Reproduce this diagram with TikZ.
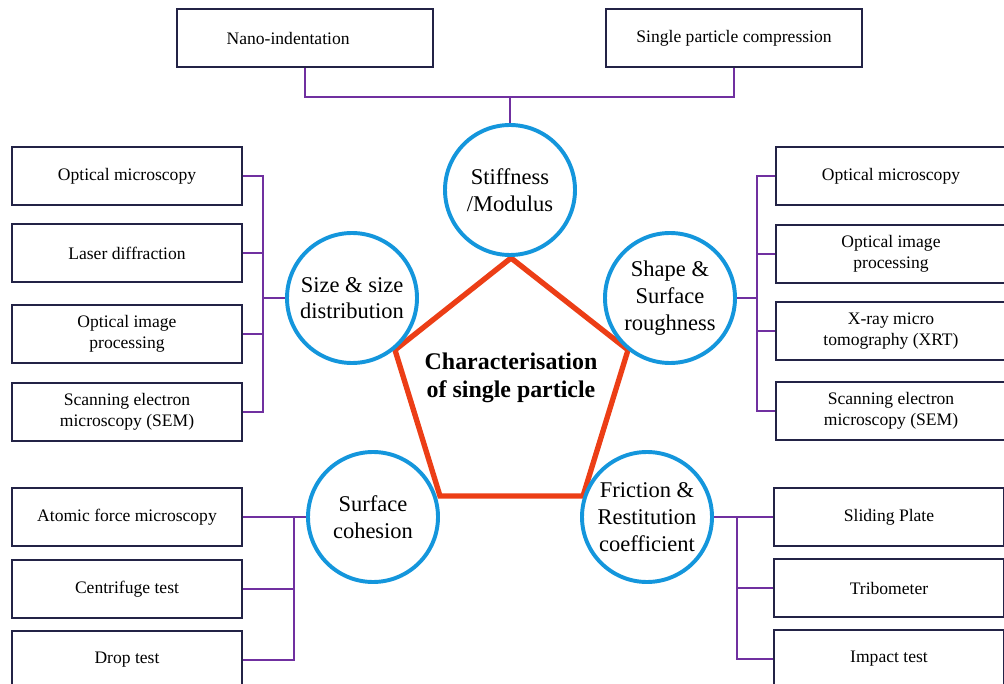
\documentclass[tikz,border=0pt]{standalone}
\usepackage{fontspec}
\setmainfont{Liberation Serif}
\definecolor{ringblue}{RGB}{20,150,220}
\definecolor{pentred}{RGB}{236,62,22}
\definecolor{boxnavy}{RGB}{35,35,70}
\definecolor{linkpurple}{RGB}{112,48,160}

\begin{document}
\begin{tikzpicture}[
  x=0.25mm, y=-0.25mm,
  method/.style={draw=boxnavy, line width=1.4pt, fill=white, align=center, minimum width=57.5mm, minimum height=14.5mm, inner sep=2pt, font=\fontsize{12.5}{15}\selectfont},
  wide/.style={method, minimum width=64mm},
  prop/.style={circle, draw=ringblue, line width=2.8pt, fill=white, minimum size=32.5mm, inner sep=0pt, align=center, font=\fontsize{16}{19}\selectfont},
  link/.style={draw=linkpurple, line width=1.1pt}
]
\useasboundingbox (0,0) rectangle (1004,684);
\clip (0,0) rectangle (1004,684);
\coordinate (pt)  at (511,258);
\coordinate (pr)  at (628,350);
\coordinate (pbr) at (583,496);
\coordinate (pbl) at (440,496);
\coordinate (pl)  at (395,350);
\draw[pentred, line width=3.8pt] (pt) -- (pr) -- (pbr) -- (pbl) -- (pl) -- cycle;
\node[font=\fontsize{17}{20}\selectfont\bfseries, align=center] at (511,378) (core) {Characterisation\\of single particle};
\node[prop] at (510,190) (stiff) {Stiffness\\/Modulus};
\node[prop] at (352,298) (size)  {Size \& size\\distribution};
\node[prop] at (670,298) (shape) {Shape \&\\Surface\\roughness};
\node[prop] at (373,517) (cohes) {Surface\\cohesion};
\node[prop] at (647,517) (frict) {Friction \&\\Restitution\\coefficient};
\node[wide] at (305,38) (nano)   {Nano-indentation\hspace*{24pt}};
\node[wide] at (734,38) (single) {Single particle compression};
\node[method] at (127,176) (lb1) {Optical microscopy};
\node[method] at (127,253) (lb2) {Laser diffraction};
\node[method] at (127,334) (lb3) {Optical image\\processing};
\node[method] at (127,412) (lb4) {Scanning electron\\microscopy (SEM)};
\node[method] at (127,517) (cb1) {Atomic force microscopy};
\node[method] at (127,589) (cb2) {Centrifuge test};
\node[method] at (127,660) (cb3) {Drop test};
\node[method] at (891,176) (rb1) {Optical microscopy};
\node[method] at (891,254) (rb2) {Optical image\\processing};
\node[method] at (891,331) (rb3) {X-ray micro\\tomography (XRT)};
\node[method] at (891,411) (rb4) {Scanning electron\\microscopy (SEM)};
\node[method] at (889,517) (fb1) {Sliding Plate};
\node[method] at (889,588) (fb2) {Tribometer};
\node[method] at (889,659) (fb3) {Impact test};
\coordinate (tbus) at (510,97);
\coordinate (lbus) at (263,298);
\coordinate (cbus) at (294,517);
\coordinate (rbus) at (757,298);
\coordinate (fbus) at (737,517);
\draw[link] (nano.south) |- (tbus) -| (single.south);
\draw[link] (tbus) -- (stiff.north);
\foreach \i in {1,...,4} \draw[link] (lb\i.east) -| (lbus);
\draw[link] (lbus) -- (size.west);
\foreach \i in {1,...,3} \draw[link] (cb\i.east) -| (cbus);
\draw[link] (cbus) -- (cohes.west);
\foreach \i in {1,...,4} \draw[link] (rb\i.west) -| (rbus);
\draw[link] (rbus) -- (shape.east);
\foreach \i in {1,...,3} \draw[link] (fb\i.west) -| (fbus);
\draw[link] (fbus) -- (frict.east);
\end{tikzpicture}
\end{document}
